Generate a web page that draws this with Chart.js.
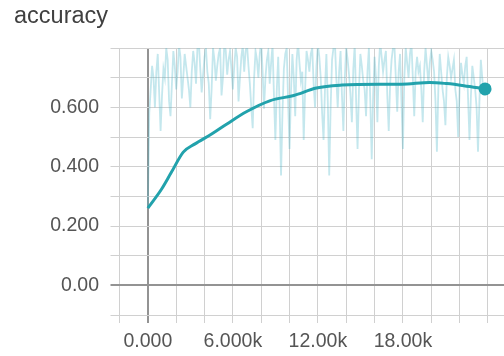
<!DOCTYPE html>
<html>
<head>
<meta charset="utf-8">
<script src="https://cdn.jsdelivr.net/npm/chart.js@4/dist/chart.umd.min.js"></script>
<style>
  html, body { margin: 0; padding: 0; background: #fff; }
  #wrap { width: 504px; height: 356px; overflow: hidden; }
  canvas { display: block; }
</style>
</head>
<body>
<!-- the x axis keeps a few px of right padding; the canvas is a bit wider and clipped so the plot runs to the edge -->
<div id="wrap"><canvas id="accuracyChart" width="511" height="356"></canvas></div>
<script>
// Raw accuracy, one value every RAW_STEP training steps
const RAW_STEP = 100;
const rawValues = [
  0.26, 0.58, 0.66, 0.74, 0.70, 0.60, 0.72, 0.78, 0.65, 0.52,
  0.64, 0.73, 0.70, 0.80, 0.76, 0.62, 0.57, 0.68, 0.79, 0.74,
  0.66, 0.72, 0.81, 0.77, 0.63, 0.70, 0.78, 0.74, 0.70, 0.66,
  0.60, 0.72, 0.79, 0.75, 0.68, 0.80, 0.82, 0.73, 0.65, 0.71,
  0.77, 0.80, 0.72, 0.68, 0.56, 0.66, 0.80, 0.76, 0.69, 0.74,
  0.78, 0.80, 0.64, 0.70, 0.82, 0.79, 0.71, 0.76, 0.79, 0.73,
  0.66, 0.74, 0.80, 0.77, 0.62, 0.70, 0.77, 0.81, 0.72, 0.79,
  0.81, 0.74, 0.68, 0.60, 0.53, 0.70, 0.79, 0.76, 0.70, 0.78,
  0.82, 0.72, 0.595, 0.70, 0.76, 0.79, 0.68, 0.75, 0.81, 0.64,
  0.49, 0.66, 0.77, 0.60, 0.37, 0.58, 0.73, 0.78, 0.80, 0.62,
  0.46, 0.65, 0.78, 0.70, 0.57, 0.76, 0.82, 0.75, 0.69, 0.72,
  0.49, 0.66, 0.79, 0.76, 0.72, 0.78, 0.80, 0.68, 0.60, 0.74,
  0.81, 0.77, 0.70, 0.58, 0.49, 0.66, 0.78, 0.62, 0.37, 0.60,
  0.76, 0.80, 0.82, 0.70, 0.60, 0.72, 0.79, 0.64, 0.52, 0.70,
  0.80, 0.76, 0.71, 0.64, 0.55, 0.73, 0.81, 0.62, 0.46, 0.66,
  0.78, 0.74, 0.69, 0.66, 0.57, 0.72, 0.80, 0.62, 0.425, 0.64,
  0.77, 0.70, 0.55, 0.74, 0.82, 0.77, 0.72, 0.76, 0.79, 0.64,
  0.52, 0.68, 0.76, 0.80, 0.81, 0.70, 0.585, 0.72, 0.78, 0.62,
  0.46, 0.70, 0.80, 0.75, 0.70, 0.78, 0.82, 0.70, 0.57, 0.72,
  0.77, 0.72, 0.74, 0.66, 0.55, 0.72, 0.80, 0.74, 0.68, 0.75,
  0.79, 0.76, 0.72, 0.62, 0.45, 0.66, 0.78, 0.72, 0.66, 0.62,
  0.54, 0.70, 0.77, 0.74, 0.70, 0.73, 0.76, 0.66, 0.62, 0.50,
  0.66, 0.75, 0.71, 0.68, 0.74, 0.77, 0.63, 0.49, 0.64, 0.74,
  0.70, 0.66, 0.60, 0.45, 0.62, 0.76, 0.70, 0.64, 0.68
];

// Smoothed curve
const smoothSteps  = [0, 950, 1650, 2500, 3300, 4500, 5550, 6950, 8600, 10300, 11900, 13700, 16300, 17900, 19900, 21100, 22300, 23800];
const smoothValues = [0.26, 0.323, 0.38, 0.449, 0.476, 0.51, 0.543, 0.585, 0.622, 0.64, 0.665, 0.675, 0.678, 0.678, 0.684, 0.68, 0.673, 0.662];

// Grid positions and tick labels
const xTickValues = [-2000, 0, 2000, 4000, 6000, 8000, 10000, 12000, 14000, 16000, 18000, 20000, 22000, 24000];
const xTickLabels = { 0: '0.000', 6000: '6.000k', 12000: '12.00k', 18000: '18.00k' };
const yTickLabels = { 0: '0.00', 2: '0.200', 4: '0.400', 6: '0.600' };

const lineColor = '#22a2ac';
const gridColor = '#d0d0d0';
const zeroColor = '#939393';
const fontFamily = '"Liberation Sans", Arial, sans-serif';

const rawPoints = rawValues.map((v, i) => ({ x: i * RAW_STEP, y: v }));
const smoothPoints = smoothSteps.map((s, i) => ({ x: s, y: smoothValues[i] }));

const isZero = ctx => ctx.tick && Math.abs(ctx.tick.value) < 1e-9;

new Chart(document.getElementById('accuracyChart').getContext('2d'), {
  type: 'line',
  data: {
    datasets: [
      {
        label: 'smoothed',
        data: smoothPoints,
        borderColor: lineColor,
        backgroundColor: lineColor,
        borderWidth: 3,
        cubicInterpolationMode: 'monotone',
        pointRadius: ctx => (ctx.dataIndex === smoothPoints.length - 1 ? 6.5 : 0),
        pointBorderWidth: 0,
        order: 0
      },
      {
        label: 'raw',
        data: rawPoints,
        borderColor: 'rgba(70, 180, 200, 0.32)',
        borderWidth: 1.8,
        pointRadius: 0,
        tension: 0,
        order: 1
      }
    ]
  },
  options: {
    responsive: false,
    animation: false,
    layout: { padding: { left: 14, right: 0, top: 0, bottom: 0 } },
    plugins: {
      legend: { display: false },
      tooltip: { enabled: false },
      title: {
        display: true,
        text: 'accuracy',
        align: 'start',
        color: '#404040',
        font: { family: fontFamily, size: 23.5, weight: 'normal' },
        padding: { top: 2, bottom: 17.8 }
      }
    },
    scales: {
      x: {
        type: 'linear',
        min: -2000,
        max: 25170,
        border: { display: false },
        grid: {
          color: ctx => (isZero(ctx) ? zeroColor : gridColor),
          lineWidth: ctx => (isZero(ctx) ? 2 : 1),
          tickLength: 8
        },
        afterBuildTicks: scale => {
          scale.ticks = xTickValues.map(v => ({ value: v }));
        },
        afterFit: scale => { scale.height = 41; },
        ticks: {
          autoSkip: false,
          maxRotation: 0,
          minRotation: 0,
          padding: 7,
          color: '#555',
          font: { family: fontFamily, size: 19.5 },
          callback: value => xTickLabels[value] || ''
        }
      },
      y: {
        min: -0.1,
        max: 0.8,
        border: { display: false },
        grid: {
          color: ctx => (isZero(ctx) ? zeroColor : gridColor),
          lineWidth: ctx => (isZero(ctx) ? 2 : 1),
          tickLength: 9
        },
        afterFit: scale => { scale.width = 105.5; },
        ticks: {
          stepSize: 0.1,
          autoSkip: false,
          padding: 11.5,
          color: '#555',
          font: { family: fontFamily, size: 19.5 },
          callback: value => yTickLabels[Math.round(value * 10)] || ''
        }
      }
    }
  }
});
</script>
</body>
</html>
